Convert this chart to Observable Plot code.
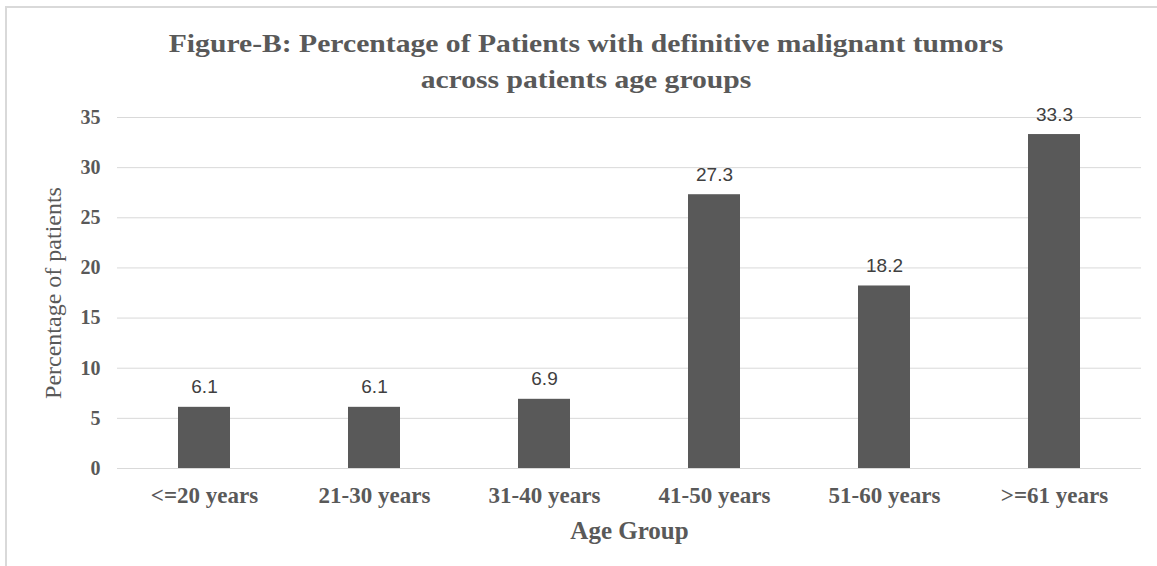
<!DOCTYPE html>
<html>
<head>
<meta charset="utf-8">
<script src="https://cdn.jsdelivr.net/npm/d3@7"></script>
<script src="https://cdn.jsdelivr.net/npm/@observablehq/plot@0.6"></script>
<style>
  html, body { margin: 0; padding: 0; background: #fff; }
  #wrap { position: relative; width: 1157px; height: 566px; overflow: hidden; }
  #frame { position: absolute; left: 5px; top: 6px; width: 1200px; height: 700px; border: 2px solid #d9d9d9; box-sizing: border-box; }
  #title { position: absolute; left: 0; width: 1172px; top: 26px; text-align: center; font-family: "Liberation Serif", "Times New Roman", serif; font-weight: bold; font-size: 26px; line-height: 36px; color: #595959; transform: scaleX(1.14); transform-origin: 586px 0; }
  #chart { position: absolute; left: 0; top: 0; }
</style>
</head>
<body>
<div id="wrap">
  <div id="frame"></div>
  <div id="chart"></div>
  <div id="title">Figure-B: Percentage of Patients with definitive malignant tumors<br>across patients age groups</div>
</div>
<script>
const ageGroups = ["<=20 years", "21-30 years", "31-40 years", "41-50 years", "51-60 years", ">=61 years"];
const percentages = [6.1, 6.1, 6.9, 27.3, 18.2, 33.3];
const yTicks = [0, 5, 10, 15, 20, 25, 30, 35];
const xTitle = "Age Group";
const yTitle = "Percentage of patients";

const data = ageGroups.map((g, i) => ({group: g, value: percentages[i]}));

const serif = "'Liberation Serif', 'Times New Roman', serif";

const chart = Plot.plot({
  width: 1157,
  height: 566,
  marginLeft: 117,
  marginRight: 16,
  marginTop: 117,
  marginBottom: 98,
  style: { background: "transparent", overflow: "visible" },
  x: { domain: ageGroups, paddingInner: 0.695, paddingOuter: 0.3475, label: null },
  y: { domain: [0, 35], label: null },
  marks: [
    Plot.gridY(yTicks, { stroke: "#d9d9d9", strokeOpacity: 1, strokeWidth: 1 }),
    Plot.barY(data, { x: "group", y: "value", fill: "#595959" }),
    Plot.text(data, {
      x: "group", y: "value", text: d => d.value.toFixed(1),
      dy: -20, fill: "#404040", fontSize: 19,
      fontFamily: "'Liberation Sans', Arial, sans-serif", lineAnchor: "middle"
    }),
    Plot.axisY(yTicks, {
      tickSize: 0, tickPadding: 17, label: null,
      fontFamily: serif, fontWeight: "bold", fontSize: 20, fill: "#595959"
    }),
    Plot.axisX({
      tickSize: 0, tickPadding: 18, label: null,
      fontFamily: serif, fontWeight: "bold", fontSize: 23, fill: "#595959"
    }),
    Plot.text([xTitle], {
      frameAnchor: "bottom", dy: 62, text: d => d,
      fontFamily: serif, fontWeight: "bold", fontSize: 25, fill: "#595959",
      lineAnchor: "middle"
    }),
    Plot.text([yTitle], {
      frameAnchor: "left", dx: -64, dy: 0, rotate: -90, text: d => d,
      textAnchor: "middle",
      fontFamily: serif, fontSize: 24, fill: "#595959", lineAnchor: "middle"
    })
  ]
});
document.getElementById("chart").appendChild(chart);
</script>
</body>
</html>
